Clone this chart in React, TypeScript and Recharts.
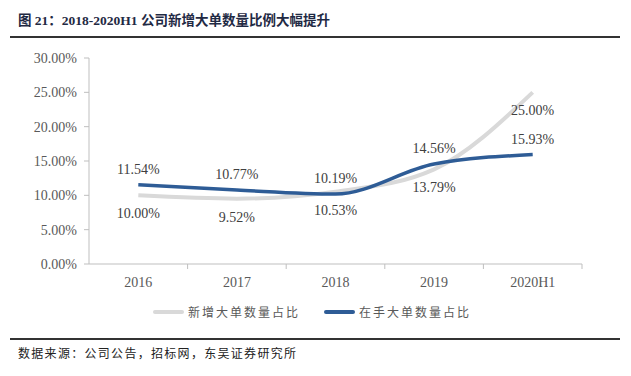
import { LineChart, Line, XAxis, YAxis, LabelList } from "recharts";

const categories = ["2016", "2017", "2018", "2019", "2020H1"];
const newShare = [10.0, 9.52, 10.53, 13.79, 25.0];
const holdShare = [11.54, 10.77, 10.19, 14.56, 15.93];
const yTicks = [0, 5, 10, 15, 20, 25, 30];

const data = categories.map((c, i) => ({ cat: c, newShare: newShare[i], holdShare: holdShare[i] }));

const W = 631;
const H = 376;
const PLOT_LEFT = 89;
const PLOT_RIGHT = 582;
const PLOT_TOP = 58;
const PLOT_BOTTOM = 264;
const HALF = (PLOT_RIGHT - PLOT_LEFT) / 10;
const XAXIS_H = 30;

const SERIF = '"Liberation Serif", "Times New Roman", serif';
const CJK = '"Liberation Serif", "Noto Sans CJK SC", serif';
const GREY = "#d9d9d9";
const BLUE = "#2e5c96";
const AXIS = "#bfbfbf";
const TEXT = "#404040";

const pct = (v: number) => `${v.toFixed(2)}%`;

const XTick = (props: any) => {
  const { x, payload } = props;
  return (
    <g>
      <line x1={x + HALF} x2={x + HALF} y1={PLOT_BOTTOM} y2={PLOT_BOTTOM + 5} stroke={AXIS} />
      <text x={x} y={PLOT_BOTTOM + 23} textAnchor="middle" fontSize={14} fontFamily={SERIF} fill="#595959">
        {payload.value}
      </text>
    </g>
  );
};

const LegendItem = ({ color, label }: { color: string; label: string }) => (
  <div style={{ display: "flex", alignItems: "center", marginRight: 24 }}>
    <div style={{ width: 31, height: 4, background: color, borderRadius: 2, marginRight: 4 }} />
    <span style={{ fontSize: 12, letterSpacing: 2, color: "#595959", fontFamily: CJK }}>{label}</span>
  </div>
);

export default function App() {
  return (
    <div style={{ position: "absolute", left: 0, top: 0, width: W, height: H, background: "#fff" }}>
      <div
        style={{
          position: "absolute", left: 18, top: 9, fontSize: 13.5, fontWeight: "bold",
          fontFamily: CJK, color: "#1f2a44", whiteSpace: "nowrap",
        }}
      >
        图 21：2018-2020H1 公司新增大单数量比例大幅提升
      </div>
      <div style={{ position: "absolute", left: 10, top: 36, width: 610, height: 2, background: "#333" }} />

      <div style={{ position: "absolute", left: 0, top: 0 }}>
        <LineChart
          width={W}
          height={H}
          data={data}
          margin={{ top: PLOT_TOP, right: W - PLOT_RIGHT, bottom: H - PLOT_BOTTOM - XAXIS_H, left: 0 }}
        >
          <XAxis
            dataKey="cat"
            height={XAXIS_H}
            padding={{ left: HALF, right: HALF }}
            axisLine={{ stroke: AXIS }}
            tickLine={false}
            tick={<XTick />}
            interval={0}
          />
          <YAxis
            width={PLOT_LEFT}
            domain={[0, 30]}
            ticks={yTicks}
            tickFormatter={pct}
            axisLine={{ stroke: AXIS }}
            tickLine={{ stroke: AXIS }}
            tickSize={5}
            tickMargin={7}
            tick={{ fontSize: 14, fontFamily: SERIF, fill: "#595959" }}
          />
          <Line
            type="monotone"
            dataKey="newShare"
            stroke={GREY}
            strokeWidth={4}
            dot={false}
            isAnimationActive={false}
          >
            <LabelList dataKey="newShare" position="bottom" offset={13} formatter={(v: any) => pct(Number(v))}
              fontSize={14} fontFamily={SERIF} fill={TEXT} />
          </Line>
          <Line
            type="monotone"
            dataKey="holdShare"
            stroke={BLUE}
            strokeWidth={3.5}
            dot={false}
            isAnimationActive={false}
          >
            <LabelList dataKey="holdShare" position="top" offset={11} formatter={(v: any) => pct(Number(v))}
              fontSize={14} fontFamily={SERIF} fill={TEXT} />
          </Line>
        </LineChart>
      </div>

      <div style={{ position: "absolute", left: 153, top: 303, display: "flex" }}>
        <LegendItem color={GREY} label="新增大单数量占比" />
        <LegendItem color={BLUE} label="在手大单数量占比" />
      </div>

      <div style={{ position: "absolute", left: 10, top: 338, width: 610, height: 2, background: "#333" }} />
      <div
        style={{
          position: "absolute", left: 18, top: 344, fontSize: 12, letterSpacing: 1.3,
          fontFamily: CJK, color: "#222", whiteSpace: "nowrap",
        }}
      >
        数据来源：公司公告，招标网，东吴证券研究所
      </div>
    </div>
  );
}
